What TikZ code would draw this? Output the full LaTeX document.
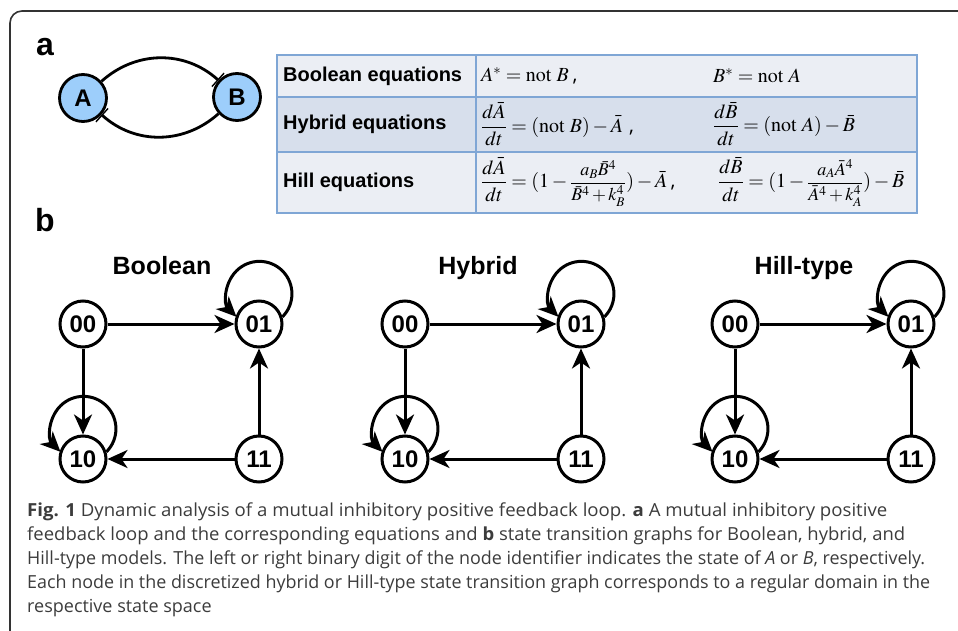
\documentclass[tikz,border=0pt]{standalone}
\usepackage{mathptmx}
\usepackage[no-math]{fontspec}
\setmainfont{Open Sans}
\newfontfamily\arialfont{Liberation Sans}
\usetikzlibrary{arrows.meta}

\definecolor{geneblue}{HTML}{9DCEFB}
\definecolor{tabline}{HTML}{7FA6D5}
\definecolor{rowlight}{HTML}{EBEEF4}
\definecolor{rowdark}{HTML}{D7DFEC}
\definecolor{captext}{HTML}{3C3C3C}
\definecolor{framegray}{HTML}{333333}

\newcommand{\eqsize}{\fontsize{20}{24}\selectfont}
\newcommand{\innerfrac}[2]{{\fontsize{18}{20}\selectfont$\displaystyle\frac{#1}{#2}$}}

\begin{document}
\begin{tikzpicture}
            [x=1pt, y=-1pt,
             panel/.style={font=\arialfont\bfseries\fontsize{32}{32}\selectfont, inner sep=0pt},
             gene/.style={circle, draw, fill=geneblue, line width=2.8pt, minimum size=47pt,
                          inner sep=0pt, font=\arialfont\bfseries\fontsize{24}{24}\selectfont},
             inhib/.style={line width=2.8pt, -{Bar[width=18pt,line width=1.4pt]}},
             rowhd/.style={anchor=west, inner sep=0pt, font=\arialfont\bfseries\fontsize{20}{24}\selectfont},
             eqn/.style={anchor=west, inner sep=0pt, font=\eqsize},
             gtitle/.style={anchor=base, inner sep=0pt, font=\arialfont\bfseries\fontsize{25}{25}\selectfont},
             state/.style={circle, draw, line width=3pt, minimum size=46pt, inner sep=0pt,
                           font=\arialfont\bfseries\fontsize{24}{24}\selectfont},
             trans/.style={line width=3pt, -{Stealth[length=20pt,width=18pt,inset=6pt]}},
             capline/.style={anchor=base west, inner sep=0pt, text=captext,
                             font=\fontsize{18}{22}\selectfont}]
            %\draw [help lines] (0,0) grid (958,631);
            \useasboundingbox (0,0) rectangle (958,631);
            \fill[white] (0,0) rectangle (958,631);
            \draw[framegray, line width=1.6pt, rounded corners=12pt] (10,645) -- (10,11) -- (972,11);

            % panel a
            \node[panel] (lbla) at (45,47) {a};
            \node[gene] (A) at (83,98) {A};
            \node[gene] (B) at (237,97) {B};
            \draw[inhib] (A) to[out=42,in=138] (B);
            \draw[inhib] (B) to[out=-138,in=-42] (A);

            \fill[rowlight] (277,55) rectangle (917,97);
            \fill[rowdark] (277,97) rectangle (917,152);
            \fill[rowlight] (277,152) rectangle (917,213);
            \draw[tabline, line width=1.1pt] (277,97) -- (917,97) (277,152) -- (917,152) (476,55) -- (476,213);
            \draw[tabline, line width=1.6pt] (277,55) rectangle (917,213);

            \node[rowhd] (hdbool) at (283,76) {Boolean equations};
            \node[rowhd] (hdhyb) at (283,124) {Hybrid equations};
            \node[rowhd] (hdhill) at (283,182) {Hill equations};

            \node[eqn] (eqboola) at (481,76) {$A^{*}=\mathrm{not}\ B$\hspace{4pt},};
            \node[eqn] (eqboolb) at (713,76) {$B^{*}=\mathrm{not}\ A$};
            \node[eqn] (eqhyba) at (481,124) {$\displaystyle\frac{d\bar{A}}{dt}=(\mathrm{not}\ B)-\bar{A}$\hspace{6pt},};
            \node[eqn] (eqhybb) at (713,124) {$\displaystyle\frac{d\bar{B}}{dt}=(\mathrm{not}\ A)-\bar{B}$};
            \node[eqn] (eqhilla) at (481,182) {$\displaystyle\frac{d\bar{A}}{dt}=(1-{}$\innerfrac{a_B\bar{B}^4}{\bar{B}^4+k_B^4}$)-\bar{A}$\,,};
            \node[eqn] (eqhillb) at (718,182) {$\displaystyle\frac{d\bar{B}}{dt}=(1-{}$\innerfrac{a_A\bar{A}^4}{\bar{A}^4+k_A^4}$)-\bar{B}$};

            % panel b
            \node[panel] (lblb) at (45,220) {b};
            \foreach \gx/\tx/\gid/\gname in {83/162/bo/Boolean, 405/478/hy/Hybrid, 735/804/hi/Hill-type}
            {
              \node[gtitle] (\gid title) at (\tx,274) {\gname};
              \node[state] (\gid00) at (\gx,324) {00};
              \node[state] (\gid01) at (\gx+176,324) {01};
              \node[state] (\gid10) at (\gx,459) {10};
              \node[state] (\gid11) at (\gx+176,459) {11};
              \draw[trans] (\gid01.17) arc[start angle=-45, end angle=225, radius=32.5pt];
              \draw[trans] (\gid10.17) arc[start angle=-45, end angle=225, radius=32.5pt];
              \draw[trans] (\gid00) -- (\gid01);
              \draw[trans] (\gid00) -- (\gid10);
              \draw[trans] (\gid11) -- (\gid01);
              \draw[trans] (\gid11) -- (\gid10);
            }

            % caption
            \node[capline] (cap1) at (27,516) {\resizebox{860pt}{\height}{\textbf{Fig. 1} Dynamic analysis of a mutual inhibitory positive feedback loop. \textbf{a} A mutual inhibitory positive}};
            \node[capline] (cap2) at (27,540) {\resizebox{878pt}{\height}{feedback loop and the corresponding equations and \textbf{b} state transition graphs for Boolean, hybrid, and}};
            \node[capline] (cap3) at (27,564) {\resizebox{898pt}{\height}{Hill-type models. The left or right binary digit of the node identifier indicates the state of \textit{A} or \textit{B}, respectively.}};
            \node[capline] (cap4) at (27,588) {\resizebox{903pt}{\height}{Each node in the discretized hybrid or Hill-type state transition graph corresponds to a regular domain in the}};
            \node[capline] (cap5) at (27,612) {respective state space};
        \end{tikzpicture}
\end{document}
